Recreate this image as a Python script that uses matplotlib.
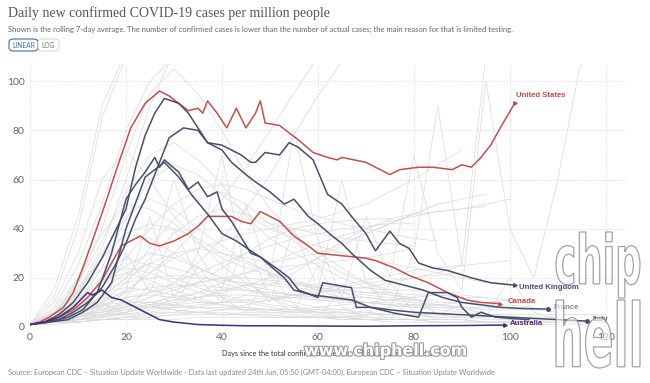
import numpy as np
import matplotlib.pyplot as plt
from matplotlib.patches import FancyBboxPatch, PathPatch
from matplotlib.textpath import TextPath
from matplotlib.font_manager import FontProperties
from matplotlib.transforms import Affine2D
import matplotlib.patheffects as pe

# -----------------------------
# --- Highlighted countries (day, cases per million)
# -----------------------------
us_days = [0, 2, 4, 7, 9, 11, 13, 16, 18, 21, 24, 27, 29, 31, 33, 35, 36, 37, 39, 41, 43, 45, 47, 48, 49,
           52, 56, 59, 62, 64, 65, 70, 75, 77, 81, 84, 88, 90, 92, 94, 96, 98, 101]
us_vals = [1, 2, 4, 8, 14, 24, 35, 52, 64, 81, 91, 96, 94, 91, 88, 89, 87, 92, 87, 81, 89, 81, 87, 92, 83,
           82, 76, 71, 69, 68, 69, 67, 62, 64, 65, 65, 64, 66, 65, 69, 74, 81, 91]

canada_days = [0, 3, 6, 9, 12, 15, 17, 19, 21, 23, 25, 27, 30, 33, 35, 37, 40, 42, 44, 46, 48, 50, 52, 55,
               58, 60, 65, 70, 72, 76, 79, 83, 87, 91, 94, 98]
canada_vals = [1, 2, 4, 7, 12, 19, 26, 33, 35, 37, 34, 33, 35, 38, 41, 45, 45, 45, 43, 42, 47, 45, 43, 37,
               33, 30, 29, 28, 27, 24, 21, 18, 14, 11, 10, 9.5]

australia_days = [0, 3, 6, 9, 11, 12, 13, 15, 17, 19, 21, 23, 25, 27, 30, 35, 40, 45, 50, 60, 70, 80, 90, 99]
australia_vals = [1, 2, 4, 8, 12, 14, 13, 15, 12, 11, 9, 7, 5, 3, 2, 1, 0.7, 0.5, 0.5, 0.4, 0.3, 0.5, 0.6, 0.8]

uk_days = [0, 3, 6, 9, 12, 15, 18, 20, 22, 24, 26, 29, 32, 35, 37, 40, 42, 44, 46, 47, 49, 52, 54, 56, 59,
           62, 65, 67, 70, 72, 75, 77, 79, 81, 84, 87, 92, 96, 101]
uk_vals = [1, 2, 3, 6, 10, 16, 26, 34, 44, 52, 62, 77, 81, 80, 75, 74, 72, 70, 67, 67, 71, 70, 75, 73, 68,
           54, 50, 45, 38, 31, 39, 34, 32, 26, 24, 23, 20, 18, 17]

france_days = [0, 3, 6, 9, 12, 15, 17, 19, 20, 22, 24, 26, 28, 31, 33, 35, 37, 40, 42, 45, 47, 50, 53, 55,
               58, 60, 63, 65, 67, 71, 74, 78, 82, 86, 90, 94, 98, 103, 108]
france_vals = [1, 2, 5, 10, 18, 28, 36, 44, 48, 65, 78, 87, 93, 91, 87, 81, 75, 72, 67, 62, 59, 55, 50, 52,
               45, 42, 37, 34, 30, 23, 19, 17, 15, 12, 10, 9, 8, 7.5, 7.3]

italy_days = [0, 4, 8, 11, 14, 17, 20, 24, 28, 31, 34, 37, 40, 43, 46, 48, 50, 53, 55, 59, 63, 67, 71, 75,
              80, 85, 90, 95, 100, 105, 110, 116]
italy_vals = [1, 2, 3, 6, 10, 18, 40, 61, 67, 61, 53, 46, 38, 35, 31, 28.5, 25, 20, 15, 13, 12, 11, 8, 7,
              6, 5.5, 5, 4.5, 4, 3.5, 3, 2.4]

other_days = [0, 4, 8, 11, 14, 17, 20, 22, 24, 26, 27, 28, 31, 33, 35, 37, 39, 40, 42, 46, 48, 52, 54, 56,
              60, 61, 64, 67, 68, 71, 76, 81, 83, 87, 89, 90, 92, 94, 97, 100, 104]
other_vals = [1, 2, 4, 7, 14, 30, 52, 58, 63, 69, 65, 68, 63, 56, 59, 53, 55, 48, 43, 30, 28.5, 23, 20, 15,
              12, 18, 17, 16, 8, 8, 5.6, 4, 14, 14, 12, 8, 4, 6, 4, 3.5, 3]

# -----------------------------
# --- Background countries (values every 5 days)
# -----------------------------
g01 = [1, 4, 10, 18, 25, 30, 28, 24, 20, 16, 12, 10, 8, 7, 6, 5, 5, 4, 4, 3, 3, 3, 2, 2]
g02 = [1, 3, 8, 15, 22, 26, 24, 21, 18, 15, 13, 12, 11, 10, 10, 9, 8, 8, 7, 6]
g03 = [1, 2, 4, 6, 9, 12, 15, 18, 20, 22, 24, 25, 26, 27, 28, 30, 32]
g04 = [1, 5, 14, 30, 45, 52, 48, 40, 33, 27, 22, 18, 15, 12, 10, 9, 8, 7, 6, 5, 5]
g05 = [1, 2, 3, 5, 6, 8, 10, 12, 14, 17, 20, 24, 28, 33, 38, 42, 46, 50]
g06 = [1, 6, 18, 35, 55, 70, 75, 68, 58, 45, 36, 30, 25, 20, 16, 13, 11, 9, 8, 7]
g07 = [1, 2, 2, 3, 4, 4, 5, 5, 5, 6, 6, 6, 7, 7, 8, 8, 9, 9, 10, 10, 11]
g08 = [1, 4, 9, 14, 16, 15, 13, 11, 9, 8, 7, 6, 5, 4, 4, 3, 3, 2, 2, 2, 2, 1, 1, 1]
g09 = [1, 3, 7, 12, 20, 32, 44, 52, 55, 50, 42, 35, 28, 22, 18, 15]
g10 = [1, 8, 25, 50, 80, 100, 110]
g11 = [1, 5, 15, 32, 60, 90, 112]
g12 = [1, 3, 6, 10, 15, 22, 30, 40, 52, 65, 80, 95, 110]
g13 = [1, 2, 5, 10, 18, 28, 38, 45, 48, 46, 42, 40, 38, 36, 35, 34, 33]
g14 = [1, 3, 5, 7, 8, 9, 9, 10, 10, 11, 12, 13, 14, 15, 16, 18, 20, 22, 25]
g15 = [1, 10, 30, 60, 72, 60, 45, 35, 25, 18, 12, 8, 6, 4, 3]
g16 = [1, 2, 4, 8, 14, 22, 28, 32, 35, 38, 40, 42, 44, 47, 50, 55, 60, 66, 72]
g17 = [1, 4, 12, 20, 24, 22, 18, 14, 12, 10, 8, 7, 6, 5, 4, 4, 3, 3, 3, 2]
g18 = [1, 6, 16, 28, 38, 42, 40, 36, 30, 26, 22, 19, 16, 14, 12, 11, 10, 9, 8]
g19 = [1, 2, 3, 3, 4, 5, 6, 8, 10, 13, 17, 22, 28, 35, 40, 44, 46, 47, 48, 50, 52]
g20 = [1, 3, 4, 5, 5, 6, 6, 6, 5, 5, 5, 4, 4, 4, 3, 3, 3, 3, 3, 2, 2, 2, 2, 2, 2]
g21 = [1, 12, 40, 85, 110]
g22 = [1, 5, 18, 40, 70, 95, 105, 95, 80, 62, 48, 38, 30, 24, 18, 14, 11]
g23 = [1, 2, 6, 12, 20, 26, 30, 32, 30, 28, 26, 28, 30, 34, 38, 42, 46, 50, 52, 54]
g24 = [1, 3, 8, 16, 28, 40, 50, 56, 58, 56, 52, 48, 45, 42, 40, 38, 36, 35]
g25 = [1, 2, 3, 5, 8, 12, 18, 26, 36, 48, 62, 78, 94, 108]
g26 = [1, 4, 7, 9, 10, 10, 9, 8, 8, 7, 7, 6, 6, 6, 5, 5, 5, 5, 4, 4, 4, 4, 4]
g27 = [1, 7, 20, 38, 50, 48, 42, 34, 28, 24, 21, 18, 16, 15, 14, 13, 12]
g28 = [1, 2, 4, 7, 10, 14, 18, 22, 26, 30, 33, 36, 38, 40, 41, 42, 42]
g29 = [1, 3, 10, 24, 44, 60, 66, 62, 54, 46, 40, 36, 33, 30, 28, 26, 24, 22, 20, 18]
g30 = [1, 2, 3, 4, 6, 8, 11, 14, 18, 22, 26, 30, 34, 37, 40, 43, 45, 47, 48, 49]
g31 = [1, 5, 10, 15, 18, 20, 21, 20, 19, 18, 17, 16, 15, 14, 13, 12, 11, 10, 10, 9, 9, 8]
g32 = [1, 3, 6, 9, 12, 14, 16, 18, 20, 20, 19, 18, 17, 16, 16, 15, 15, 14, 14]
g33 = [1, 15, 45, 90, 112]
g34 = [1, 4, 14, 28, 38, 36, 30, 24, 20, 17, 15, 13, 12, 11, 10, 9]
g35 = [1, 2, 3, 4, 6, 9, 13, 18, 24, 30, 36, 40, 42, 43, 44, 44]
g36 = [1, 2, 2, 3, 3, 3, 3, 4, 4, 4, 4, 4, 4, 4, 5, 5, 5, 5, 5, 5, 5, 5, 5, 5, 5]
g37 = [1, 6, 12, 8, 30, 14, 40, 20, 10, 35, 12, 6, 25, 8, 4, 18, 6, 3]
g38 = [1, 3, 20, 6, 15, 45, 12, 30, 70, 20, 10, 40, 15, 60, 18, 8, 30, 90, 25, 110]
g39 = [1, 2, 8, 4, 12, 25, 60, 30, 15, 50, 20, 80, 35, 12, 45, 20, 70, 30, 15, 100, 40, 20, 60, 110]
g40 = [1, 4, 2, 10, 5, 18, 8, 25, 12, 6, 22, 9, 4, 15, 7, 3, 12, 5, 9, 4, 20, 6, 3]
g41 = [1, 3, 6, 8, 9, 8, 7, 6, 6, 5, 5, 4, 4, 4, 3, 3, 3, 2, 2, 2, 2, 2]
g42 = [1, 2, 5, 9, 12, 13, 12, 10, 9, 8, 7, 7, 6, 6, 5, 5, 5, 4, 4]
g43 = [1, 2, 3, 5, 7, 9, 11, 12, 13, 13, 12, 12, 11, 11, 10, 10, 9, 9, 8, 8, 8]
g44 = [1, 4, 11, 19, 22, 19, 15, 12, 9, 7, 6, 5, 4, 3, 3, 2, 2, 2]
g45 = [1, 1, 2, 3, 4, 6, 8, 9, 10, 10, 11, 12, 14, 16, 18, 19, 20, 21, 22]
g46 = [1, 3, 5, 6, 7, 8, 8, 8, 7, 7, 7, 7, 8, 9, 10, 11, 12, 13, 13, 12]
g47 = [1, 5, 14, 24, 28, 25, 20, 16, 13, 11, 9, 8, 7, 6, 6, 5]
g48 = [1, 2, 3, 4, 5, 7, 9, 12, 15, 17, 18, 17, 16, 15, 14, 14, 13, 13, 12, 12, 11, 11]
g49 = [1, 2, 4, 6, 8, 10, 12, 14, 15, 15, 14, 13, 12, 11, 10, 9, 9, 8, 8, 7, 7, 7, 6]
g50 = [1, 3, 7, 11, 14, 16, 17, 17, 16, 15, 14, 13, 13, 12, 12, 11, 11, 11]
g51 = [1, 2, 2, 3, 3, 4, 5, 6, 7, 9, 11, 13, 15, 17, 19, 21, 23, 24, 25, 26, 27]
g52 = [1, 4, 8, 12, 11, 9, 7, 6, 5, 5, 4, 4, 4, 3, 3, 3, 3, 2, 2, 2, 2, 2, 2, 1]

gray_lines = [g01, g02, g03, g04, g05, g06, g07, g08, g09, g10, g11, g12, g13, g14, g15, g16, g17, g18, g19,
              g20, g21, g22, g23, g24, g25, g26, g27, g28, g29, g30, g31, g32, g33, g34, g35, g36, g37, g38,
              g39, g40, g41, g42, g43, g44, g45, g46, g47, g48, g49, g50, g51, g52]

x_ticks = [0, 20, 40, 60, 80, 100, 120]
y_ticks = [0, 20, 40, 60, 80, 100]

red = "#c0504d"
dark = "#454f6b"
purple = "#4a2a72"

# -----------------------------
# --- Figure
# -----------------------------
W, H = 650, 383
fig = plt.figure(figsize=(W / 100, H / 100), dpi=100)
ax = fig.add_axes([30 / W, 56 / H, 595 / W, 263 / H])
ax.set_xlim(0, 124)
ax.set_ylim(0, 107)

for g in gray_lines:
    ax.plot(np.arange(len(g)) * 5, g, color="#dadada", lw=0.5, zorder=1)

series = [
    (us_days, us_vals, red, ">"),
    (canada_days, canada_vals, red, ">"),
    (uk_days, uk_vals, dark, ">"),
    (france_days, france_vals, dark, "o"),
    (italy_days, italy_vals, dark, "o"),
    (other_days, other_vals, dark, None),
    (australia_days, australia_vals, purple, ">"),
]
for d, v, c, m in series:
    ax.plot(d, v, color=c, lw=1.1, zorder=3, solid_joinstyle="round")
    if m:
        ax.plot(d[-1], v[-1], marker=m, color=c, ms=2.5, zorder=4)

lab = dict(fontsize=5.6, fontweight="bold", family="Liberation Sans", va="center", zorder=5)
ax.text(us_days[-1] + 0.3, us_vals[-1] + 3, "United States", color=red, **lab)
ax.text(uk_days[-1] + 1, uk_vals[-1] - 1, "United Kingdom", color=dark, **lab)
ax.text(canada_days[-1] + 1.5, canada_vals[-1] + 1, "Canada", color=red, **lab)
ax.text(france_days[-1] + 1.2, france_vals[-1] + 0.8, "France", color="#8a8a8a", **lab)
ax.text(australia_days[-1] + 1, australia_vals[-1] + 0.5, "Australia", color=purple, **lab)
ax.text(italy_days[-1] + 1.2, italy_vals[-1] + 0.5, "Italy", color=dark, **lab)

ax.set_xticks(x_ticks)
ax.set_yticks(y_ticks)
ax.grid(True, color="#dddddd", lw=0.6, ls=(0, (2, 2)), zorder=0)
for s in ax.spines.values():
    s.set_visible(False)
ax.axhline(0, color="#bbbbbb", lw=0.8, zorder=2)
ax.tick_params(length=0, labelsize=7.5, labelcolor="#666666", pad=4)
for t in ax.get_xticklabels() + ax.get_yticklabels():
    t.set_family("Lato")
ax.set_xlabel("Days since the total confirmed cases per million people reached 1",
              fontsize=5.3, color="#333333", family="Lato", labelpad=6)

# -----------------------------
# --- Header / footer
# -----------------------------
def px(x, y):
    return x / W, 1 - y / H

fig.text(*px(8, 6), "Daily new confirmed COVID-19 cases per million people",
         fontsize=10, family="Liberation Serif", color="#555555", va="top")
fig.text(*px(8, 26), "Shown is the rolling 7-day average. The number of confirmed cases is lower than the number "
         "of actual cases; the main reason for that is limited testing.",
         fontsize=5.5, family="Lato", color="#666666", va="top")

fig.patches.append(FancyBboxPatch(px(9, 51), 29 / W, 12 / H, boxstyle="round,pad=0,rounding_size=0.008",
                                  transform=fig.transFigure, fc="white", ec="#3a6fb0", lw=0.8))
fig.patches.append(FancyBboxPatch(px(38, 51), 21 / W, 12 / H, boxstyle="round,pad=0,rounding_size=0.008",
                                  transform=fig.transFigure, fc="white", ec="#cccccc", lw=0.6))
fig.text(*px(23.5, 45), "LINEAR", fontsize=4.8, family="Lato", color="#3a6fb0", ha="center", va="center")
fig.text(*px(48.5, 45), "LOG", fontsize=4.8, family="Lato", color="#777777", ha="center", va="center")

fig.text(*px(8, 372), "Source: European CDC \u2013 Situation Update Worldwide - Data last updated 24th Jun, 05:50 "
         "(GMT-04:00), European CDC \u2013 Situation Update Worldwide",
         fontsize=5.3, family="Lato", color="#888888", va="center")

# watermark
wm = [pe.withStroke(linewidth=1.6, foreground="#9a9a9a")]
fig.text(*px(386, 351), "www.chiphell.com", fontsize=11.5, fontweight="bold", family="DejaVu Sans",
         color="white", ha="center", va="center", path_effects=wm)

fp = FontProperties(family="DejaVu Sans", weight="bold")
for word, top, bottom in [("chip", 232, 298), ("hell", 300, 368)]:
    tp = TextPath((0, 0), word, size=10, prop=fp)
    bb = tp.get_extents()
    sx = 84 / bb.width
    sy = (bottom - top) / bb.height
    tr = Affine2D().translate(-bb.x0, -bb.y0).scale(sx, sy).translate(556, H - bottom)
    fig.patches.append(PathPatch(tr.transform_path(tp), fc=(1, 1, 1, 0.6), ec=(0.55, 0.55, 0.55, 0.8),
                                 lw=0.9, transform=None, zorder=10))

fig.savefig("out.png", dpi=100)
